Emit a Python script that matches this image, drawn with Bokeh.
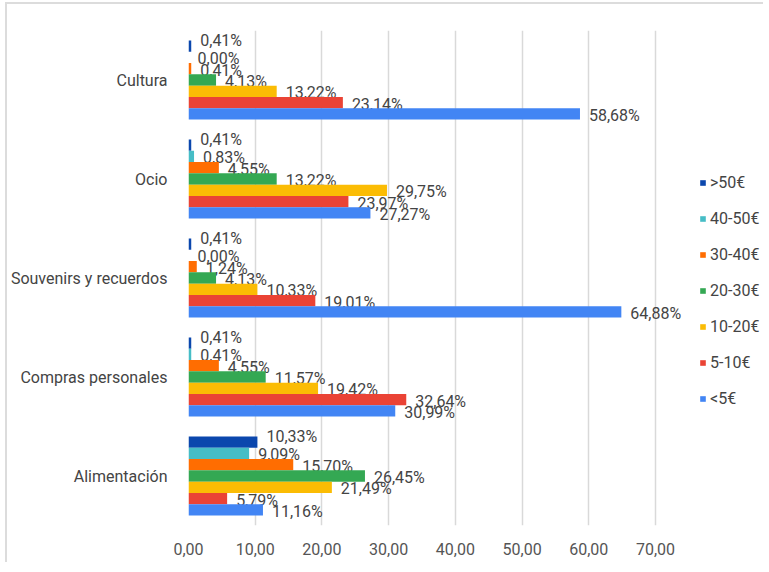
from bokeh.plotting import figure
from bokeh.models import ColumnDataSource, Legend, LegendItem, FixedTicker
from bokeh.core.properties import value
from bokeh.embed import file_html
from bokeh.resources import INLINE

categories = ["Cultura", "Ocio", "Souvenirs y recuerdos", "Compras personales", "Alimentación"]
series = [">50€", "40-50€", "30-40€", "20-30€", "10-20€", "5-10€", "<5€"]
colors = ["#0b47ad", "#46bdc6", "#ff6d01", "#34a853", "#fbbc04", "#ea4335", "#4285f4"]

v_gt50 = [0.41, 0.41, 0.41, 0.41, 10.33]
v_40_50 = [0.00, 0.83, 0.00, 0.41, 9.09]
v_30_40 = [0.41, 4.55, 1.24, 4.55, 15.70]
v_20_30 = [4.13, 13.22, 4.13, 11.57, 26.45]
v_10_20 = [13.22, 29.75, 10.33, 19.42, 21.49]
v_5_10 = [23.14, 23.97, 19.01, 32.64, 5.79]
v_lt5 = [58.68, 27.27, 64.88, 30.99, 11.16]
series_values = [v_gt50, v_40_50, v_30_40, v_20_30, v_10_20, v_5_10, v_lt5]

x_ticks = [0, 10, 20, 30, 40, 50, 60, 70]
x_tick_labels = ["0,00", "10,00", "20,00", "30,00", "40,00", "50,00", "60,00", "70,00"]

FONT = "Roboto"
TXT = "#444444"

ncat = len(categories)
nser = len(series)
group_w = 0.8
bar_h = group_w / nser

W, H = 758, 560
LEFT, TOP, BOTTOM = 181, 26, 39
FRAME_W = W - LEFT
X_MAX = 70 * FRAME_W / 467.0

p = figure(output_backend="svg", toolbar_location=None,
           width=W, height=H,
           min_border_left=LEFT, min_border_right=0,
           min_border_top=TOP, min_border_bottom=BOTTOM,
           x_range=(0, X_MAX), y_range=(0, ncat))
p.outline_line_color = None
p.background_fill_color = "white"
p.border_fill_color = "white"
p.styles = {"border-top": "2px solid #dcdcdc", "border-left": "2px solid #dcdcdc",
            "margin-left": "5px", "margin-top": "2px"}

cat_centers = [ncat - 0.5 - i for i in range(ncat)]

items = []
for s, (name, vals, col) in enumerate(zip(series, series_values, colors)):
    ys = [c + group_w / 2 - (s + 0.5) * bar_h for c in cat_centers]
    labels = [("%.2f" % v).replace(".", ",") + "%" for v in vals]
    src = ColumnDataSource(dict(y=ys, right=vals, lab=labels))
    r = p.hbar(y="y", left=0, right="right", height=bar_h, source=src,
               fill_color=col, line_color=None)
    items.append(LegendItem(label=name, renderers=[r]))
    p.text(x="right", y="y", text="lab", source=src,
           x_offset=9, y_offset=(-6 if s == 0 else 1.5),
           text_font=value(FONT), text_font_size="16px", text_color=TXT,
           text_baseline="middle", text_align="left")

p.xaxis.ticker = FixedTicker(ticks=x_ticks)
p.xaxis.major_label_overrides = {t: l for t, l in zip(x_ticks, x_tick_labels)}
p.xaxis.axis_line_color = None
p.xaxis.major_tick_line_color = None
p.xaxis.minor_tick_line_color = None
p.xaxis.major_label_standoff = 11
p.xaxis.major_label_text_font = FONT
p.xaxis.major_label_text_font_size = "16px"
p.xaxis.major_label_text_color = "#555555"

p.yaxis.ticker = FixedTicker(ticks=cat_centers)
p.yaxis.major_label_overrides = {c: n for c, n in zip(cat_centers, categories)}
p.yaxis.axis_line_color = None
p.yaxis.major_tick_line_color = None
p.yaxis.minor_tick_line_color = None
p.yaxis.major_label_standoff = 15
p.yaxis.major_label_text_font = FONT
p.yaxis.major_label_text_font_size = "16px"
p.yaxis.major_label_text_color = TXT

p.xgrid.grid_line_color = "#d9d9d9"
p.xgrid.grid_line_width = 1.5
p.ygrid.grid_line_color = None

legend = Legend(items=items, location=(511, 117), orientation="vertical",
                glyph_width=7, glyph_height=7, label_height=20, spacing=16,
                label_standoff=4, padding=0, margin=0,
                label_text_font=FONT, label_text_font_size="16px",
                label_text_color=TXT, border_line_color=None,
                background_fill_alpha=0)
p.add_layout(legend)

open("out.html", "w").write(file_html(p, INLINE))
